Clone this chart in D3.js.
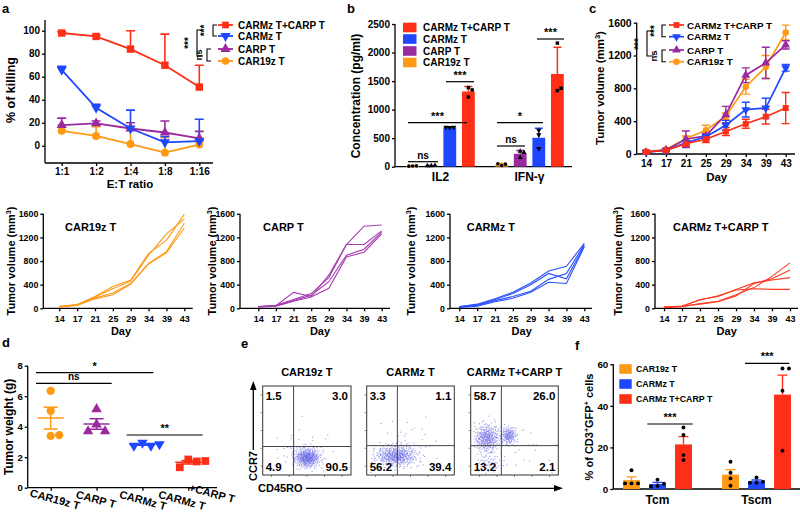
<!DOCTYPE html>
<html><head><meta charset="utf-8">
<script src="https://cdn.jsdelivr.net/npm/d3@7"></script>
<style>
body{margin:0;background:#fff;}
svg{display:block;font-family:"Liberation Sans",Arial,Helvetica,sans-serif;font-weight:bold;}
</style></head><body>
<svg id="chart" width="800" height="516"></svg>
<script>
// ---------------- DATA ----------------
// panel a
const ratios = ["1:1","1:2","1:4","1:8","1:16"];
const killCombo = [98,95,84,70,51];
const killCARMz = [66,33,15,3,4];
const killCARP = [18,19.5,15,11.5,6.5];
const killCAR19z = [13,8.5,1.5,-6,1];
const killErrCombo = [1,1,16,27,19];
const killErrCARMz = [3,3,16,5,19];
const killErrCARP = [6,2,5,10,6];
const killErrCAR19z = [5,8,12,13,6];
// panel b
const cytokines = ["IL2","IFN-γ"];
const barGroups = ["CAR19z T","CARP T","CARMz T","CARMz T+CARP T"];
const concCAR19z = [[12,15,10],[20,45,50]];
const concCARP = [[18,22,15],[270,250,160]];
const concCARMz = [[688,692,690],[320,560,640]];
const concCombo = [[1386,1345,1222],[2165,1333,1375]];
// panel c
const days = ["14","17","21","25","29","34","39","43"];
const volCombo = [25,45,125,180,275,368,455,560];
const volErrCombo = [8,10,30,40,50,55,90,190];
const volCARMz = [25,45,135,210,350,540,560,1050];
const volErrCARMz = [5,8,20,40,60,90,120,40];
const volCARP = [20,50,180,220,480,960,1110,1330];
const volErrCARP = [5,8,100,30,100,90,190,50];
const volCAR19z = [30,55,190,290,460,820,1060,1480];
const volErrCAR19z = [5,8,30,60,40,90,140,90];
// individual mice
const miceCAR19z = [[30,60,200,370,480,930,1150,1590],[20,55,190,330,460,900,1260,1510],[35,65,175,260,420,760,960,1440],[25,50,160,230,410,750,940,1360]];
const miceCARP = [[25,45,270,200,560,1080,1390,1410],[30,50,150,250,520,1080,1080,1310],[20,40,130,220,450,900,1000,1290],[25,35,120,190,340,870,950,1260]];
const miceCARMz = [[25,70,160,270,430,630,710,1100],[30,60,150,250,400,590,500,1060],[20,50,130,200,290,490,590,1080],[15,35,110,170,270,440,420,1040]];
const miceCombo = [[20,30,150,200,320,430,480,520],[15,40,140,210,310,330,320,320],[10,25,80,120,230,350,540,770],[20,35,70,110,210,420,500,650]];
// panel d
const weightGroups = ["CAR19z T","CARP T","CARMz T","CARMz T+CARP T"];
const weightCAR19z = [6.35,5.05,3.4,3.45];
const weightCARP = [5.15,4.15,3.7,3.7];
const weightCARMz = [2.95,2.75,2.75,2.85];
const weightCombo = [1.85,1.72,1.34,1.75];
// panel e
const flowTitles = ["CAR19z  T","CARMz  T","CARMz T+CARP T"];
const flowQuad = [["1.5","3.0","4.9","90.5"],["3.3","1.1","56.2","39.4"],["58.7","26.0","13.2","2.1"]];
const flowGates = [[0.35,0.32],[0.35,0.33],[0.35,0.33]];
const flowClusters = [
  [[0.50,0.20,0.075,0.055,380],[0.45,0.28,0.18,0.12,40]],
  [[0.33,0.22,0.12,0.06,420],[0.45,0.35,0.2,0.15,40]],
  [[0.18,0.42,0.075,0.08,320],[0.43,0.45,0.045,0.05,140],[0.2,0.14,0.08,0.06,60],[0.6,0.3,0.2,0.15,20]]
];
// panel f
const subsets = ["Tcm","Tscm"];
const fGroups = ["CAR19z T","CARMz T","CARMz T+CARP T"];
const pctCAR19z = [[9,2.7,2.7,2.7],[13.1,7.8,5.1,1.6]];
const pctCARMz = [[4.5,2.5,1.5,1.2],[5.5,3.5,3,3]];
const pctCombo = [[29.6,26,16.3,13.9],[58,58,47.3,18.4]];

// ---------------- HELPERS ----------------
const RED='#ff2e17', BLUE='#1e47ff', PURPLE='#9a2aa0', ORANGE='#ff9916';
const FONT='"Liberation Sans",Arial,Helvetica,sans-serif';
const svg = d3.select('#chart');
svg.append('rect').attr('width',800).attr('height',516).attr('fill','#fff');

function T(x,y,s,o={}){
  const t=svg.append('text').attr('x',x).attr('y',y).text(s)
    .attr('font-size',o.fs||10).attr('font-weight','bold').attr('fill',o.fill||'#000')
    .attr('text-anchor',o.anchor||'start');
  if(o.rot!=null) t.attr('transform',`rotate(${o.rot},${x},${y})`);
  if(o.db) t.attr('dominant-baseline',o.db);
  return t;
}
function styleAxis(g,fs){
  g.attr('font-family',FONT).attr('font-size',fs).attr('font-weight','bold');
  g.selectAll('path.domain').attr('stroke','#000').attr('stroke-width',1.3);
  g.selectAll('.tick line').attr('stroke','#000').attr('stroke-width',1.3);
  g.selectAll('.tick text').attr('fill','#000');
}
function leftAxis(scale,x,ticks,yTop,yBot,fs){
  const ax=d3.axisLeft(scale).tickValues(ticks).tickSize(3).tickSizeOuter(0).tickPadding(2).tickFormat(d3.format('d'));
  const g=svg.append('g').attr('transform',`translate(${x},0)`).call(ax);
  g.select('.domain').attr('d',`M0,${yTop}V${yBot}`);
  styleAxis(g,fs); return g;
}
function bottomAxis(scale,y,xL,xR,fs,pad,tick){
  const ax=d3.axisBottom(scale).tickSize(tick==null?3:tick).tickSizeOuter(0).tickPadding(pad);
  const g=svg.append('g').attr('transform',`translate(0,${y})`).call(ax);
  g.select('.domain').attr('d',`M${xL},0H${xR}`);
  styleAxis(g,fs); return g;
}
function sym(type,size){
  const m={square:d3.symbolSquare,circle:d3.symbolCircle,tri:d3.symbolTriangle,tridown:d3.symbolTriangle};
  return d3.symbol().type(m[type]).size(size)();
}
function drawSym(g,type,x,y,size,color){
  g.append('path').attr('d',sym(type,size)).attr('fill',color)
   .attr('transform',`translate(${x},${y})`+(type==='tridown'?' rotate(180)':''));
}
function hline(x1,x2,y,color,w){ svg.append('line').attr('x1',x1).attr('x2',x2).attr('y1',y).attr('y2',y).attr('stroke',color||'#000').attr('stroke-width',w||1.3); }
function vline(x,y1,y2,color,w){ svg.append('line').attr('x1',x).attr('x2',x).attr('y1',y1).attr('y2',y2).attr('stroke',color||'#000').attr('stroke-width',w||1.3); }
function ytitle(x,y,s,fs){ return T(x,y,s,{fs:fs,anchor:'middle',rot:-90}); }
function dodge(vals,yScale,r,step){
  const placed=[];
  return vals.map(v=>{
    const y=yScale(v); const c=[0]; for(let i=1;i<8;i++){c.push(i*step,-i*step);}
    let off=0; for(const k of c){ if(placed.every(p=>Math.hypot(p.x-k,p.y-y)>=2*r)){off=k;break;} }
    placed.push({x:off,y}); return {v,dx:off,y};
  });
}
function bracketLegend(x,y1,y2,tick){ svg.append('path').attr('d',`M${x+tick},${y1}H${x}V${y2}H${x+tick}`).attr('fill','none').attr('stroke','#000').attr('stroke-width',1.1); }
function supTitle(x,y,parts,fs){
  const t=ytitle(x,y,'',fs);
  parts.forEach(p=>{ const s=t.append('tspan').text(p[0]); if(p[1]==='sup'){s.attr('font-size',fs*0.65).attr('dy',-fs*0.38);} else if(p[1]==='down'){s.attr('dy',fs*0.38);} });
  return t;
}

// ---------------- PANEL a ----------------
T(2,13,'a',{fs:13});
const aX=d3.scalePoint().domain(ratios).range([61.7,199.3]);
const aY=d3.scaleLinear().domain([-15,110]).range([163,19.2]);
leftAxis(aY,45,[0,20,40,60,80,100],20,163,10);
bottomAxis(aX,163,45,213,10,1.5);
ytitle(15,90,'% of killing',12.5);
T(130,187.5,'E:T ratio',{fs:11.5,anchor:'middle'});
const seriesA=[
  {name:'CAR19z T',v:killCAR19z,e:killErrCAR19z,c:ORANGE,s:'circle'},
  {name:'CARP T',v:killCARP,e:killErrCARP,c:PURPLE,s:'tri'},
  {name:'CARMz T',v:killCARMz,e:killErrCARMz,c:BLUE,s:'tridown'},
  {name:'CARMz T+CARP T',v:killCombo,e:killErrCombo,c:RED,s:'square'}];
const ga=svg.append('g');
seriesA.forEach(s=>{
  ga.append('path').datum(s.v).attr('fill','none').attr('stroke',s.c).attr('stroke-width',1.8)
    .attr('d',d3.line().x((d,i)=>aX(ratios[i])).y(d=>aY(d)));
  s.v.forEach((d,i)=>{
    const x=aX(ratios[i]);
    ga.append('path').attr('d',`M${x},${aY(d)}V${aY(d+s.e[i])}M${x-4.5},${aY(d+s.e[i])}H${x+4.5}`).attr('stroke',s.c).attr('stroke-width',1.6).attr('fill','none');
  });
});
seriesA.forEach(s=>{ s.v.forEach((d,i)=>drawSym(ga,s.s,aX(ratios[i]),aY(d),s.s==='circle'?50:(s.s==='square'?55:45),s.c)); });
// legend a
const legA=[{n:'CARMz T+CARP T',c:RED,s:'square',y:25},{n:'CARMz T',c:BLUE,s:'tridown',y:36},{n:'CARP T',c:PURPLE,s:'tri',y:49},{n:'CAR19z T',c:ORANGE,s:'circle',y:61}];
legA.forEach(l=>{ hline(218,233,l.y,l.c,1.8); drawSym(svg,l.s,225.5,l.y,45,l.c); T(238,l.y+3.6,l.n,{fs:10}); });
bracketLegend(213,25,36,4);
bracketLegend(207,49,61,4);
bracketLegend(197,30,56,6);
T(208,30.5,'***',{fs:10,anchor:'middle',rot:-90});
T(202,55,'ns',{fs:9.5,anchor:'middle',rot:-90});
T(192,43,'***',{fs:10,anchor:'middle',rot:-90});

// ---------------- PANEL b ----------------
T(347,13,'b',{fs:13});
const bY=d3.scaleLinear().domain([0,2500]).range([166.7,24]);
const bX=d3.scaleBand().domain(cytokines).range([396,574]).padding(0);
const bX2=d3.scaleBand().domain(barGroups).range([0,bX.bandwidth()]).paddingInner(0.31).paddingOuter(0.55);
leftAxis(bY,395,[0,500,1000,1500,2000,2500],24,166.7,10);
bottomAxis(bX,166.7,395,572,12,6,0);
ytitle(360,96,'Concentration (pg/ml)',12);
const barData=[
  {g:'CAR19z T',d:concCAR19z,c:ORANGE,s:'circle'},
  {g:'CARP T',d:concCARP,c:PURPLE,s:'tri'},
  {g:'CARMz T',d:concCARMz,c:BLUE,s:'tridown'},
  {g:'CARMz T+CARP T',d:concCombo,c:RED,s:'square'}];
const gb=svg.append('g');
barData.forEach(b=>{
  cytokines.forEach((cy,i)=>{
    const vals=b.d[i]; const m=d3.mean(vals), sd=d3.deviation(vals);
    const x=bX(cy)+bX2(b.g), w=bX2.bandwidth(), cx=x+w/2;
    gb.append('path').attr('d',`M${cx},${bY(m)}V${bY(m+sd)}M${cx-4},${bY(m+sd)}H${cx+4}`).attr('stroke',b.c).attr('stroke-width',1.5);
    gb.append('rect').attr('x',x).attr('y',bY(m)).attr('width',w).attr('height',bY(0)-bY(m)).attr('fill',b.c);
    dodge(vals,bY,1.8,3.8).forEach(p=>drawSym(gb,b.s,cx+p.dx,p.y,b.s==='circle'?10:12,'#000'));
  });
});
function sig(x1,x2,y,label,fs){ hline(x1,x2,y,'#000',1.2); T((x1+x2)/2,y-3,label,{fs:fs||11,anchor:'middle'}); }
sig(408,438,161.7,'ns',10);
sig(408,467,122.7,'***');
sig(446,474,81.7,'***');
sig(497,525,146,'ns',10);
sig(497,543,122.7,'*');
sig(537,564,39,'***');
const legB=[{n:'CARMz T+CARP T',c:RED,y:27.5},{n:'CARMz T',c:BLUE,y:39},{n:'CARP T',c:PURPLE,y:51},{n:'CAR19z T',c:ORANGE,y:62.5}];
legB.forEach(l=>{ svg.append('rect').attr('x',403).attr('y',l.y-4.8).attr('width',13.5).attr('height',9.6).attr('fill',l.c); T(423,l.y+3.6,l.n,{fs:10}); });

// ---------------- PANEL c ----------------
T(589,13,'c',{fs:13});
const cX=d3.scalePoint().domain(days).range([646,785.7]);
const cY=d3.scaleLinear().domain([0,1600]).range([154,22.7]);
leftAxis(cY,636.7,[0,400,800,1200,1600],22.7,154,10.5);
bottomAxis(cX,154,636.7,795,10,2.5);
supTitle(604,88,[['Tumor volume (mm'],['3','sup'],[')','down']],11.5);
T(716.7,181,'Day',{fs:11.5,anchor:'middle'});
const seriesC=[
  {v:volCAR19z,e:volErrCAR19z,c:ORANGE,s:'circle'},
  {v:volCARP,e:volErrCARP,c:PURPLE,s:'tri'},
  {v:volCARMz,e:volErrCARMz,c:BLUE,s:'tridown'},
  {v:volCombo,e:volErrCombo,c:RED,s:'square'}];
const gc=svg.append('g');
seriesC.forEach(s=>{
  s.v.forEach((d,i)=>{ const x=cX(days[i]);
    gc.append('path').attr('d',`M${x},${cY(d-s.e[i])}V${cY(d+s.e[i])}M${x-4},${cY(d+s.e[i])}H${x+4}M${x-4},${cY(d-s.e[i])}H${x+4}`).attr('stroke',s.c).attr('stroke-width',1.4).attr('fill','none');});
});
seriesC.forEach(s=>{
  gc.append('path').datum(s.v).attr('fill','none').attr('stroke',s.c).attr('stroke-width',1.7)
    .attr('d',d3.line().x((d,i)=>cX(days[i])).y(d=>cY(d)));
  s.v.forEach((d,i)=>drawSym(gc,s.s,cX(days[i]),cY(d),s.s==='square'?36:34,s.c));
});
const legC=[{n:'CARMz T+CARP T',c:RED,s:'square',y:25},{n:'CARMz T',c:BLUE,s:'tridown',y:36.7},{n:'CARP T',c:PURPLE,s:'tri',y:50},{n:'CAR19z T',c:ORANGE,s:'circle',y:61.7}];
legC.forEach(l=>{ hline(669,684,l.y,l.c,1.7); drawSym(svg,l.s,676.5,l.y,34,l.c); T(687,l.y+3.5,l.n,{fs:9.8}); });
bracketLegend(662,25,36.7,4);
bracketLegend(662,50,61.7,4);
bracketLegend(647,31,56,6);
T(657.5,31,'***',{fs:10,anchor:'middle',rot:-90});
T(657,56,'ns',{fs:9.5,anchor:'middle',rot:-90});
T(642,44,'***',{fs:10,anchor:'middle',rot:-90});

// ---------------- BOTTOM ROW ----------------
const bottomPanels=[
  {title:'CAR19z  T',mice:miceCAR19z,c:ORANGE,ax:43.3,x0:59.3,x1:184.3,xe:192.7,tx:65,yt:15,dx:121},
  {title:'CARP  T',mice:miceCARP,c:'#a63bb0',ax:240,x0:258.3,x1:381.7,xe:390,tx:263,yt:216,dx:320},
  {title:'CARMz  T',mice:miceCARMz,c:'#2a50ff',ax:450,x0:459.3,x1:584.3,xe:592,tx:466.7,yt:415,dx:521.7},
  {title:'CARMz  T+CARP T',mice:miceCombo,c:'#ff3a22',ax:655,x0:664,x1:790,xe:798,tx:673,yt:622,dx:726.7}];
bottomPanels.forEach(p=>{
  const x=d3.scalePoint().domain(days).range([p.x0,p.x1]);
  const y=d3.scaleLinear().domain([0,1600]).range([308.3,213.8]);
  leftAxis(y,p.ax,[0,400,800,1200,1600],213.8,308.3,8.8);
  bottomAxis(x,308.3,p.ax,p.xe,9,4);
  const g=svg.append('g');
  p.mice.forEach(m=>g.append('path').datum(m).attr('fill','none').attr('stroke',p.c).attr('stroke-width',1.1)
    .attr('d',d3.line().x((d,i)=>x(days[i])).y(d=>y(d))));
  T(p.tx,231,p.title,{fs:11});
  supTitle(p.yt,261,[['Tumor volume (mm'],['3','sup'],[')','down']],11);
  T(p.dx,335,'Day',{fs:11,anchor:'middle'});
});

// ---------------- PANEL d ----------------
T(2,347,'d',{fs:13});
const dY=d3.scaleLinear().domain([0,8]).range([487.7,365.7]);
const dX=d3.scalePoint().domain(weightGroups).range([50.7,188.3]);
leftAxis(dY,27.7,[0,2,4,6,8],365.7,487.7,9.5);
const gdAx=bottomAxis(dX,487.7,27.7,217,10,4);
gdAx.selectAll('.tick text').remove();
ytitle(13,427,'Tumor weight (g)',12);
const dSeries=[
  {g:'CAR19z T',v:weightCAR19z,c:ORANGE,s:'circle'},
  {g:'CARP T',v:weightCARP,c:PURPLE,s:'tri'},
  {g:'CARMz T',v:weightCARMz,c:BLUE,s:'tridown'},
  {g:'CARMz T+CARP T',v:weightCombo,c:RED,s:'square'}];
const gd=svg.append('g');
dSeries.forEach(s=>{
  const cx=dX(s.g); const m=d3.mean(s.v), se=d3.deviation(s.v)/Math.sqrt(s.v.length);
  dodge(s.v,dY,4.2,8.5).forEach(p=>drawSym(gd,s.s,cx+p.dx,p.y,s.s==='square'?60:(s.s==='circle'?55:48),s.c));
  gd.append('path').attr('d',`M${cx-13},${dY(m)}H${cx+13}M${cx},${dY(m-se)}V${dY(m+se)}M${cx-7},${dY(m-se)}H${cx+7}M${cx-7},${dY(m+se)}H${cx+7}`)
    .attr('stroke',s.c).attr('stroke-width',1.5).attr('fill','none');
});
sig(36,153.3,372.7,'*',11);
sig(36,111.7,383.3,'ns',10);
sig(126.7,202.7,435,'**',11);
T(54,503,'CAR19z T',{fs:11,anchor:'middle',rot:15});
T(95,503,'CARP T',{fs:11,anchor:'middle',rot:15});
T(142,504,'CARMz T',{fs:11,anchor:'middle',rot:15});
T(181,504,'CARMz T',{fs:11,anchor:'middle',rot:15});
T(211,497,'+CARP T',{fs:11,anchor:'middle',rot:15});

// ---------------- PANEL e ----------------
T(241,348,'e',{fs:13});
const boxes=[[262.7,351],[366.7,454.3],[470.7,558.3]];
const eTop=386, eBot=475;
function halton(i,b){let f=1,r=0;while(i>0){f/=b;r+=f*(i%b);i=Math.floor(i/b);}return r;}
boxes.forEach((bx,k)=>{
  const x=d3.scaleLinear().domain([0,1]).range(bx);
  const y=d3.scaleLinear().domain([0,1]).range([eBot,eTop]);
  const g=svg.append('g');
  let idx=1+k*977;
  flowClusters[k].forEach(cl=>{
    for(let j=0;j<cl[4];j++,idx++){
      const u1=Math.max(1e-6,halton(idx,2)), u2=halton(idx,3);
      const r=Math.sqrt(-2*Math.log(u1));
      const px=cl[0]+cl[2]*r*Math.cos(2*Math.PI*u2), py=cl[1]+cl[3]*r*Math.sin(2*Math.PI*u2);
      if(px<0.02||px>0.98||py<0.02||py>0.98) continue;
      g.append('rect').attr('x',x(px)).attr('y',y(py)).attr('width',1.1).attr('height',1.1).attr('fill','#4b4be0').attr('opacity',0.55);
    }
  });
  g.append('rect').attr('x',bx[0]).attr('y',eTop).attr('width',bx[1]-bx[0]).attr('height',eBot-eTop).attr('fill','none').attr('stroke','#333').attr('stroke-width',1);
  vline(x(flowGates[k][0]),eTop,eBot,'#444',1);
  hline(bx[0],bx[1],y(flowGates[k][1]),'#444',1);
  [0.1,0.3,0.5,0.7,0.9].forEach(t=>{ vline(x(t),eBot,eBot+2,'#555',0.7); hline(bx[0]-2,bx[0],y(t),'#555',0.7); });
  T((bx[0]+bx[1])/2,375.5,flowTitles[k],{fs:11,anchor:'middle'});
  const q=flowQuad[k];
  T(bx[0]+3,400,q[0],{fs:11.5});
  T(bx[1]-3,400,q[1],{fs:11.5,anchor:'end'});
  T(bx[0]+3,471,q[2],{fs:11.5});
  T(bx[1]-3,471,q[3],{fs:11.5,anchor:'end'});
});
vline(253.3,450,388,'#000',1.3);
svg.append('path').attr('d','M253.3,381 L250,390 L256.6,390 Z').attr('fill','#000');
T(257,466,'CCR7',{fs:11,anchor:'middle',rot:-90});
T(258,492,'CD45RO',{fs:11});
hline(306,556,488.3,'#000',1.3);
svg.append('path').attr('d','M563,488.3 L554,485 L554,491.6 Z').attr('fill','#000');

// ---------------- PANEL f ----------------
T(575,350,'f',{fs:13});
const fY=d3.scaleLinear().domain([0,60]).range([489,364.3]);
const fX=d3.scaleBand().domain(subsets).range([608,806]).padding(0);
const fX2=d3.scaleBand().domain(fGroups).range([0,fX.bandwidth()]).paddingInner(0.35).paddingOuter(0.58);
leftAxis(fY,613.3,[0,20,40,60],364.3,489,9.8);
bottomAxis(fX,489,613.3,800,12,6,0);
supTitle(593,427,[['% of CD3'],['+','sup'],['GFP','down'],['+','sup'],[' cells','down']],11);
const fSeries=[{g:'CAR19z T',d:pctCAR19z,c:ORANGE},{g:'CARMz T',d:pctCARMz,c:BLUE},{g:'CARMz T+CARP T',d:pctCombo,c:RED}];
const gf=svg.append('g');
fSeries.forEach(s=>{
  subsets.forEach((sb,i)=>{
    const vals=s.d[i]; const m=d3.mean(vals), se=d3.deviation(vals)/Math.sqrt(vals.length);
    const x=fX(sb)+fX2(s.g), w=fX2.bandwidth(), cx=x+w/2;
    gf.append('path').attr('d',`M${cx},${fY(m)}V${fY(m+se)}M${cx-5},${fY(m+se)}H${cx+5}`).attr('stroke',s.c).attr('stroke-width',1.4);
    gf.append('rect').attr('x',x).attr('y',fY(m)).attr('width',w).attr('height',fY(0)-fY(m)).attr('fill',s.c);
    dodge(vals,fY,2.2,6.5).forEach(p=>drawSym(gf,'circle',cx+p.dx,p.y,12,'#000'));
  });
});
sig(647.3,692.7,424,'***',11);
sig(745,789.3,363.3,'***',11);
const legF=[{n:'CAR19z T',c:ORANGE,y:369},{n:'CARMz T',c:BLUE,y:384},{n:'CARMz T+CARP T',c:RED,y:399}];
legF.forEach(l=>{ svg.append('rect').attr('x',619.3).attr('y',l.y-4.8).attr('width',12.4).attr('height',9.6).attr('fill',l.c); T(636,l.y+3.3,l.n,{fs:8.8}); });
</script></body></html>
